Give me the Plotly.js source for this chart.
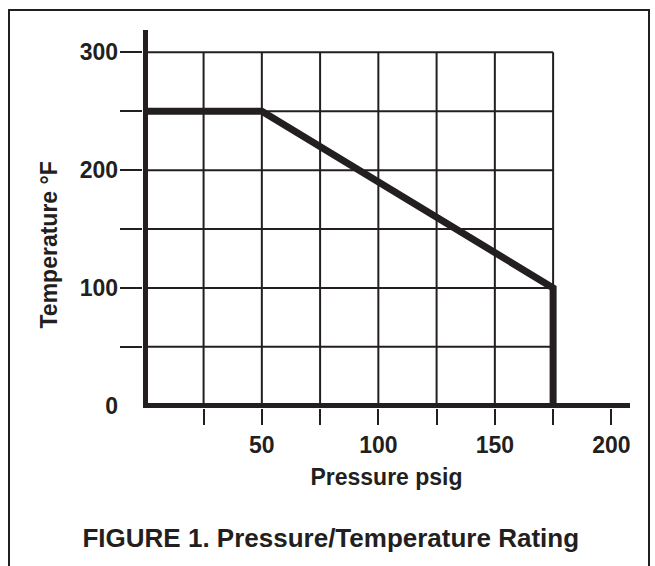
<!DOCTYPE html>
<html>
<head>
<meta charset="utf-8">
<script src="https://cdn.plot.ly/plotly-3.0.1.min.js"></script>
<style>
  html, body { margin: 0; padding: 0; background: #ffffff; }
  #wrap { position: relative; width: 655px; height: 566px; overflow: hidden; }
  #chart { position: absolute; left: 0; top: 0; width: 655px; height: 566px; }
  #frame { position: absolute; left: 8px; top: 9px; width: 642px; height: 600px;
           border: 2px solid #231f20; box-sizing: border-box; pointer-events: none; }
</style>
</head>
<body>
<div id="wrap">
  <div id="chart"></div>
  <div id="frame"></div>
</div>
<script>
// ---- data ----
const pressure = [0, 50, 175, 175];          // psig
const temperature = [250, 250, 100, 0];      // °F
const xTickVals = [25, 50, 75, 100, 125, 150, 175, 200];
const xTickText = ['', '50', '', '100', '', '150', '', '200'];
const yTickVals = [50, 100, 150, 200, 250, 300];
const yLabelVals = [0, 100, 200, 300];
const yLabelText = ['0', '100', '200', '300'];
const gridMaxX = 175;
const gridMaxY = 300;

const INK = '#231f20';
const FONT = 'Liberation Sans, Arial, Helvetica, sans-serif';

// grid built from tick arrays
const gx = [], gy = [];
xTickVals.filter(v => v <= gridMaxX).forEach(v => { gx.push(v, v, null); gy.push(0, gridMaxY, null); });
yTickVals.filter(v => v <= gridMaxY).forEach(v => { gx.push(0, gridMaxX, null); gy.push(v, v, null); });

const traces = [
  { type: 'scatter', mode: 'lines', x: gx, y: gy, line: { color: INK, width: 2 },
    hoverinfo: 'skip', showlegend: false, connectgaps: false },
  { type: 'scatter', mode: 'lines', x: pressure, y: temperature,
    line: { color: INK, width: 7 }, showlegend: false },
  { type: 'scatter', mode: 'lines', x: [null], y: [null], yaxis: 'y2', showlegend: false, hoverinfo: 'skip' }
];

const layout = {
  width: 655, height: 566,
  margin: { l: 143, r: 25, t: 30, b: 158 },
  paper_bgcolor: '#ffffff', plot_bgcolor: '#ffffff',
  showlegend: false,
  font: { family: FONT, color: INK },
  title: {
    text: '<b>FIGURE 1. Pressure/Temperature Rating</b>',
    font: { family: FONT, size: 26, color: INK },
    x: 0.505, xref: 'container', xanchor: 'center',
    y: 1 - 538 / 566, yref: 'container', yanchor: 'middle'
  },
  xaxis: {
    range: [-1, 208], showgrid: false, zeroline: true, zerolinecolor: INK, zerolinewidth: 5,
    showline: false,
    tickmode: 'array', tickvals: xTickVals, ticktext: xTickText,
    ticks: 'outside', ticklen: 16, tickwidth: 2, tickcolor: INK,
    tickfont: { family: FONT, size: 23, color: INK, weight: 'bold' },
    title: { text: '<b>Pressure psig</b>', font: { family: FONT, size: 23, color: INK }, standoff: 12 }
  },
  yaxis: {
    range: [-2, 319], showgrid: false, zeroline: true, zerolinecolor: INK, zerolinewidth: 5,
    showline: false, tickmode: 'array', tickvals: yTickVals, showticklabels: false,
    ticks: 'outside', ticklen: 22, tickwidth: 2, tickcolor: INK
  },
  yaxis2: {
    overlaying: 'y', side: 'left', range: [-2, 319], showgrid: false, zeroline: false,
    showline: false, tickmode: 'array', tickvals: yLabelVals, ticktext: yLabelText,
    ticks: '', ticklabelstandoff: 24,
    tickfont: { family: FONT, size: 23, color: INK, weight: 'bold' }
  },
  annotations: [{
    text: '<b>Temperature °F</b>', textangle: -90,
    xref: 'paper', x: 0, xanchor: 'center', xshift: -95,
    yref: 'y', y: 136, yanchor: 'middle', showarrow: false,
    font: { family: FONT, size: 23, color: INK }
  }]
};

Plotly.newPlot('chart', traces, layout, { displayModeBar: false, staticPlot: true });
</script>
</body>
</html>
